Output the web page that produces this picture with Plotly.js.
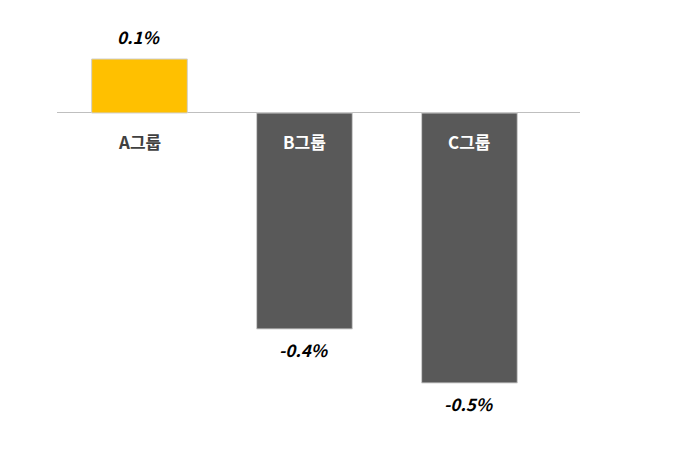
<!DOCTYPE html>
<html>
<head>
<meta charset="utf-8">
<script src="https://cdn.plot.ly/plotly-3.0.1.min.js"></script>
<style>html,body{margin:0;padding:0;background:#fff}#chart{width:698px;height:466px}</style>
</head>
<body>
<div id="chart"></div>
<script>
const categories = ["A그룹", "B그룹", "C그룹"];
const values = [0.1, -0.4, -0.5];
const valueLabels = ["0.1%", "-0.4%", "-0.5%"];
const barColors = ["#FFC000", "#595959", "#595959"];
const catLabelColors = ["#404040", "#FFFFFF", "#FFFFFF"];

const font = "'Noto Sans CJK KR', 'Noto Sans', sans-serif";

const trace = {
  type: "bar",
  x: categories,
  y: values,
  width: 0.58,
  marker: {color: barColors, line: {color: "#D0D0D0", width: 1}},
  hoverinfo: "none"
};

const annotations = [];
categories.forEach((c, i) => {
  annotations.push({
    x: c, y: values[i], xref: "x", yref: "y",
    text: "<b><i>" + valueLabels[i] + "</i></b>",
    showarrow: false, yanchor: "middle",
    yshift: values[i] >= 0 ? 22 : -21,
    font: {family: font, size: 17, color: "#000000"}
  });
  annotations.push({
    x: c, y: 0, xref: "x", yref: "y",
    text: "<b>" + c + "</b>",
    showarrow: false, yanchor: "middle",
    yshift: -29,
    font: {family: font, size: 17, color: catLabelColors[i]}
  });
});

const layout = {
  width: 698, height: 466,
  margin: {l: 57, r: 118, t: 20, b: 26},
  paper_bgcolor: "#ffffff", plot_bgcolor: "#ffffff",
  showlegend: false,
  xaxis: {range: [-0.5, 2.67], showticklabels: false, showgrid: false, zeroline: false, showline: false, ticks: ""},
  yaxis: {range: [-0.6056, 0.1722], showticklabels: false, showgrid: false, zeroline: true, zerolinecolor: "#BFBFBF", zerolinewidth: 1, showline: false, ticks: ""},
  annotations: annotations
};

Plotly.newPlot("chart", [trace], layout, {displayModeBar: false, staticPlot: true});
</script>
</body>
</html>
